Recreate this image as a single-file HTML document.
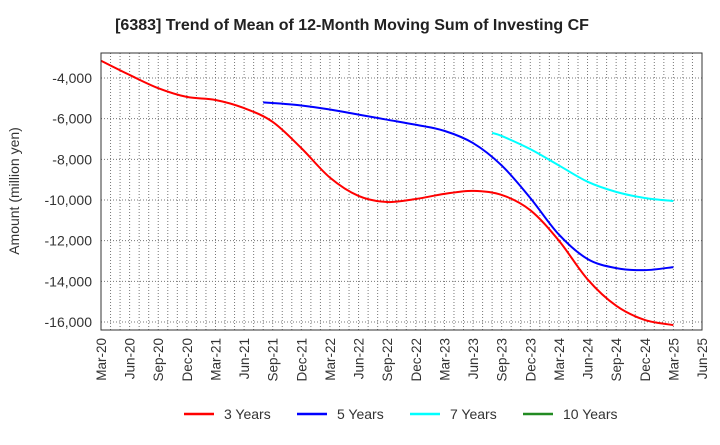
<!DOCTYPE html>
<html><head><meta charset="utf-8"><style>
body{margin:0;background:#fff;font-family:"Liberation Sans",sans-serif}
svg text{font-family:"Liberation Sans",sans-serif}
</style></head><body>
<svg id="c" width="720" height="440" viewBox="0 0 720 440">
<text x="352" y="30" text-anchor="middle" font-size="16" font-weight="bold" fill="#222">[6383]  Trend of Mean of 12-Month Moving Sum of Investing CF</text>
<text transform="translate(19,191) rotate(-90)" text-anchor="middle" font-size="14" fill="#333">Amount (million yen)</text>
<g id="grid"></g><g id="series"></g>
<rect x="101" y="53" width="601" height="277" fill="none" stroke="#333" stroke-width="1"/>
<g id="ticks"></g><g id="legend"></g>
</svg>
<script>
const xLabels=["Mar-20","Jun-20","Sep-20","Dec-20","Mar-21","Jun-21","Sep-21","Dec-21","Mar-22","Jun-22","Sep-22","Dec-22","Mar-23","Jun-23","Sep-23","Dec-23","Mar-24","Jun-24","Sep-24","Dec-24","Mar-25","Jun-25"];
const yTicks=[-4000,-6000,-8000,-10000,-12000,-14000,-16000];
const m3=[0,3,6,9,12,15,18,21,24,27,30,33,36,39,42,45,48,51,54,57,60];
const v3=[-3150,-3850,-4500,-4930,-5080,-5480,-6160,-7450,-8900,-9800,-10100,-9950,-9700,-9550,-9750,-10500,-12000,-13900,-15200,-15900,-16150];
const m5=[17,18,21,24,27,30,33,36,39,42,45,48,51,54,57,60];
const v5=[-5200,-5230,-5350,-5550,-5800,-6050,-6300,-6600,-7200,-8300,-9900,-11700,-12900,-13350,-13450,-13300];
const m7=[41,42,45,48,51,54,57,60];
const v7=[-6700,-6850,-7500,-8300,-9100,-9600,-9900,-10050];
const m10=[];const v10=[];
const X0=101,X1=702,Y0=53,Y1=330;
const xs=m=>X0+m*(X1-X0)/63;
const ys=v=>78+(-4000-v)*(244/12000);
const NS="http://www.w3.org/2000/svg";
function mk(t,a,p){const e=document.createElementNS(NS,t);for(const k in a)e.setAttribute(k,a[k]);p.appendChild(e);return e;}
const grid=document.getElementById('grid'),ticks=document.getElementById('ticks'),ser=document.getElementById('series'),leg=document.getElementById('legend');
for(let m=1;m<63;m++){const g=mk('line',{x1:xs(m),x2:xs(m),y1:Y0,y2:Y1,stroke:'#777','stroke-dasharray':'1,2','stroke-width':1},grid);

}
yTicks.forEach(v=>{const g=mk('line',{x1:X0,x2:X1,y1:ys(v),y2:ys(v),stroke:'#777','stroke-dasharray':'1,2'},grid);


const t=mk('text',{x:X0-9,y:ys(v)+5,'text-anchor':'end','font-size':14,fill:'#333'},ticks);t.textContent=v.toLocaleString('en-US');

});
xLabels.forEach((l,i)=>{const x=xs(i*3);const t=mk('text',{transform:`translate(${x+5},338) rotate(-90)`,'text-anchor':'end','font-size':13.5,fill:'#333'},ticks);t.textContent=l;

});
function path(ms,vs){const p=ms.map((m,i)=>[xs(m),ys(vs[i])]);if(!p.length)return'';let d=`M${p[0][0]},${p[0][1]}`;
for(let i=0;i<p.length-1;i++){const a=p[i-1]||p[i],b=p[i],c=p[i+1],e=p[i+2]||c;
d+=` C${b[0]+(c[0]-a[0])/6},${b[1]+(c[1]-a[1])/6} ${c[0]-(e[0]-b[0])/6},${c[1]-(e[1]-b[1])/6} ${c[0]},${c[1]}`;}return d;}
const S=[["3 Years",m3,v3,"#f00"],["5 Years",m5,v5,"#00f"],["7 Years",m7,v7,"#0ff"],["10 Years",m10,v10,"#228b22"]];
const lx=[184,297,410,523];
S.forEach((s,i)=>{if(s[1].length){const p=mk('path',{d:path(s[1],s[2]),fill:'none',stroke:s[3],'stroke-width':2},ser);

}
const l=mk('line',{x1:lx[i],x2:lx[i]+30,y1:414,y2:414,stroke:s[3],'stroke-width':2.5},leg);


const t=mk('text',{x:lx[i]+40,y:419,'font-size':14,fill:'#333'},leg);t.textContent=s[0];

});
</script>
</body></html>
